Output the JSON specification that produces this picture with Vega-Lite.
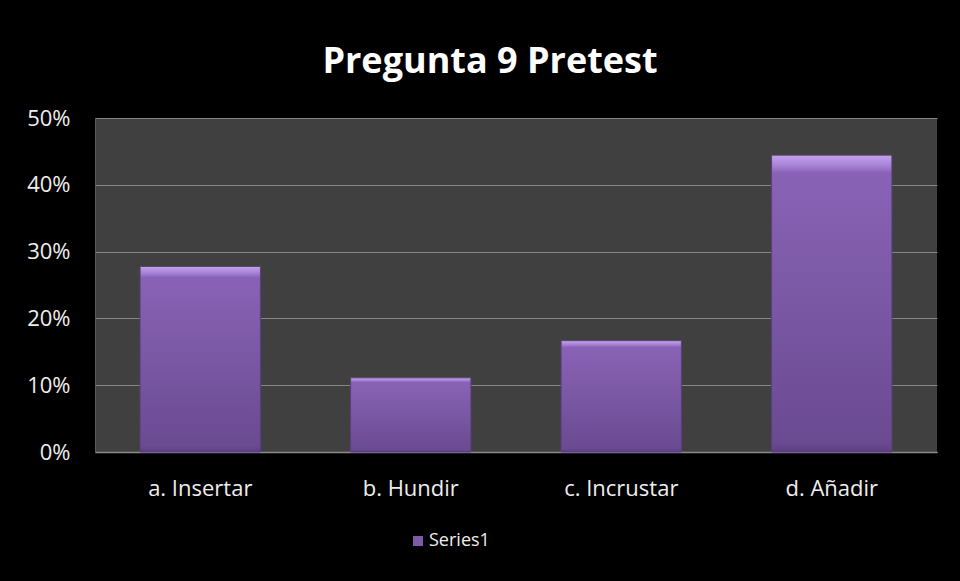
{
  "$schema": "https://vega.github.io/schema/vega-lite/v6.json",
  "width": 842,
  "height": 334,
  "autosize": {"type": "none"},
  "padding": {"left": 95, "top": 118, "right": 23, "bottom": 129},
  "background": "#000000",
  "title": {
    "text": "Pregunta 9 Pretest",
    "font": "Open Sans",
    "fontSize": 36,
    "fontWeight": "bold",
    "color": "#ffffff",
    "anchor": "middle",
    "dx": -26,
    "offset": 26
  },
  "data": {
    "values": [
      {"category": "a. Insertar", "value": 0.2778, "series": "Series1"},
      {"category": "b. Hundir", "value": 0.1111, "series": "Series1"},
      {"category": "c. Incrustar", "value": 0.1667, "series": "Series1"},
      {"category": "d. Añadir", "value": 0.4444, "series": "Series1"}
    ]
  },
  "encoding": {
    "x": {
      "field": "category",
      "type": "nominal",
      "sort": null,
      "scale": {"paddingInner": 0.4286, "paddingOuter": 0.2143},
      "axis": {
        "title": null,
        "labelAngle": 0,
        "labelFont": "Open Sans",
        "labelFontSize": 22,
        "labelColor": "#eeeeee",
        "labelPadding": 26,
        "ticks": false,
        "domainColor": "#8a8a8a",
        "domainWidth": 1.5,
        "grid": false
      }
    },
    "y": {
      "field": "value",
      "type": "quantitative",
      "scale": {"domain": [0, 0.5]},
      "axis": {
        "title": null,
        "format": ".0%",
        "values": [0, 0.1, 0.2, 0.3, 0.4, 0.5],
        "labelFont": "Open Sans",
        "labelFontSize": 22,
        "labelColor": "#eeeeee",
        "labelPadding": 25,
        "ticks": false,
        "domainColor": "#5c5c5c",
        "gridColor": "#858585",
        "gridWidth": 1.2
      }
    }
  },
  "layer": [
    {
      "mark": {"type": "bar"},
      "encoding": {
        "color": {
          "field": "series",
          "type": "nominal",
          "scale": {"range": ["#7d5aa8"]},
          "legend": {
            "title": null,
            "orient": "none",
            "legendX": 314,
            "legendY": 414,
            "symbolType": "square",
            "symbolSize": 100,
            "symbolStrokeWidth": 0,
            "labelFont": "Open Sans",
            "labelFontSize": 18,
            "labelOffset": 2,
            "labelColor": "#eeeeee"
          }
        }
      }
    },
    {
      "mark": {
        "type": "bar",
        "stroke": "#5a3e7e",
        "strokeWidth": 1,
        "fill": {
          "gradient": "linear",
          "x1": 0, "y1": 0, "x2": 0, "y2": 1,
          "stops": [
            {"offset": 0, "color": "#c4a2ee"},
            {"offset": 0.035, "color": "#a783d8"},
            {"offset": 0.06, "color": "#8962b6"},
            {"offset": 0.5, "color": "#7a58a4"},
            {"offset": 0.97, "color": "#6a4a91"},
            {"offset": 1, "color": "#5c3f80"}
          ]
        }
      },
      "encoding": {}
    }
  ],
  "config": {
    "view": {"fill": "#404040", "stroke": null}
  }
}
